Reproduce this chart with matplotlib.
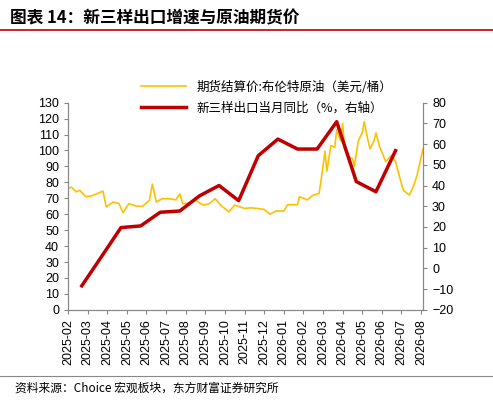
import matplotlib
matplotlib.use("Agg")
import matplotlib.pyplot as plt
import numpy as np

plt.rcParams['font.family'] = ['Noto Sans CJK SC', 'DejaVu Sans']

months = ['2025-02','2025-03','2025-04','2025-05','2025-06','2025-07','2025-08','2025-09','2025-10',
          '2025-11','2025-12','2026-01','2026-02','2026-03','2026-04','2026-05','2026-06','2026-07','2026-08']

# oil futures: (month index position, price)
oil_x = [0,0.17,0.42,0.6,0.9,1.2,1.5,1.78,1.95,2.3,2.6,2.8,3.1,3.5,3.8,4.15,4.3,4.5,4.8,5.2,5.5,5.7,5.85,
         6.2,6.5,6.9,7.2,7.5,7.8,8.2,8.5,8.8,9.0,9.3,9.7,10.0,10.3,10.6,11.0,11.2,11.5,11.7,11.8,12.2,12.5,
         12.8,12.9,13.1,13.2,13.4,13.6,13.7,13.9,14.0,14.1,14.3,14.5,14.6,14.8,15.0,15.1,15.3,15.4,15.6,15.7,
         15.9,16.2,16.5,16.7,16.9,17.1,17.4,17.6,17.8,18.1,18.3,18.5,18.7]
oil_y = [76,77,74,75,71,71.5,73,74.5,64.6,67.7,66.6,61,66.6,65,65,68.7,78.9,67.7,69.7,69.7,69,72.8,66.6,
         67,68.7,65.7,66.6,69.7,65.5,61.5,65.7,64.5,63.6,64,63.6,63,60,62,62,66,66,66,71,69,72,
         73,81,99.5,87,103,102,113,106,117,101,96,95,90,106,111,118,106,101,106,111,
         102,93,97,93,83.6,75,72,77,84.5,101,85.6,80.5,89]

# new three exports YoY (%), monthly
exp_y = [-8.4,5.6,19.7,20.5,27.1,27.7,35,40,32.7,54.4,62.4,57.6,57.6,70.8,41.9,37,56.8]

YELLOW = '#FFC000'
RED = '#C00000'

fig = plt.figure(figsize=(4.93, 4.04), dpi=100)
ax = fig.add_axes([0.138, 0.233, 0.72, 0.513])
ax2 = ax.twinx()

ax.plot(oil_x, oil_y, color=YELLOW, lw=1.2, label='期货结算价:布伦特原油（美元/桶）')
ax2.plot(np.arange(len(exp_y)) + 0.7, exp_y, color=RED, lw=2.5, label='新三样出口当月同比（%，右轴）')

ax.set_xlim(0, 18.1)
ax.set_ylim(0, 130)
ax.set_yticks(range(0, 131, 10))
ax2.set_ylim(-20, 80)
ax2.set_yticks(range(-20, 81, 10))
ax.set_xticks(range(len(months)))
ax.set_xticklabels(months, rotation=90, fontsize=8.5, family=['Liberation Sans'])
for a in (ax, ax2):
    a.tick_params(labelsize=9, length=3, color='#888888')
    for s in a.spines.values():
        s.set_color('#888888')
    a.spines['top'].set_visible(False)
for l in ax.get_yticklabels() + ax2.get_yticklabels():
    l.set_family('Liberation Sans')

h1, l1 = ax.get_legend_handles_labels()
h2, l2 = ax2.get_legend_handles_labels()
ax.legend(h1 + h2, l1 + l2, loc='upper center', bbox_to_anchor=(0.56, 1.16), frameon=False,
          fontsize=9, handlelength=3.6, labelspacing=0.6)

fig.text(0.02, 0.955, '图表 14：新三样出口增速与原油期货价', fontsize=12, fontweight='bold', va='center')
fig.add_artist(plt.Line2D([0.0, 1.0], [0.925, 0.925], color=RED, lw=1.2))
fig.add_artist(plt.Line2D([0.0, 1.0], [0.07, 0.07], color='#888888', lw=0.8))
fig.text(0.03, 0.04, '资料来源：Choice 宏观板块，东方财富证券研究所', fontsize=8.5, va='center')

fig.savefig('out.png', dpi=100)
